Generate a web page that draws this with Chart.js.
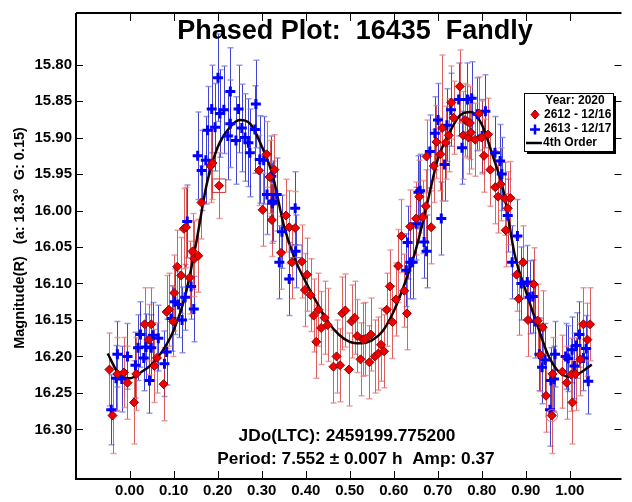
<!DOCTYPE html>
<html>
<head>
<meta charset="utf-8">
<script src="https://cdn.jsdelivr.net/npm/chart.js@4.4.1/dist/chart.umd.min.js"></script>
<style>
  html, body { margin: 0; padding: 0; background: #fff; }
  #wrap { width: 632px; height: 502px; }
</style>
</head>
<body>
<div id="wrap"><canvas id="chart" width="632" height="502"></canvas></div>
<script>
// Session 2612 - 12/16 (red diamonds): phase, magnitude, error
const redX = [-0.046, -0.039, -0.028, -0.013, -0.005, 0.010, 0.015, 0.034, 0.043, 0.049, 0.056, 0.062, 0.077, 0.084, 0.089, 0.099, 0.101, 0.108, 0.117, 0.123, 0.128, 0.136, 0.143, 0.147, 0.156, 0.163, 0.184, 0.188, 0.203,
  0.294, 0.302, 0.311, 0.318, 0.323, 0.329, 0.344, 0.355, 0.3625, 0.3685, 0.376, 0.391, 0.398, 0.403, 0.411, 0.418, 0.424, 0.429, 0.435, 0.443, 0.450, 0.463, 0.470, 0.478, 0.483, 0.490, 0.498,
  0.504, 0.511, 0.517, 0.5245, 0.530, 0.535, 0.5446, 0.548, 0.557, 0.565, 0.571, 0.578, 0.584, 0.591, 0.597, 0.605, 0.610, 0.6175, 0.624, 0.630, 0.6375, 0.651, 0.658, 0.666, 0.673, 0.6745, 0.685,
  0.691, 0.697, 0.706, 0.710, 0.718, 0.725, 0.731, 0.736, 0.750, 0.758, 0.762, 0.7675, 0.770, 0.773, 0.775, 0.785, 0.794, 0.7995, 0.805, 0.814, 0.8195, 0.8305, 0.837, 0.843, 0.853, 0.8545, 0.859, 0.865,
  0.879, 0.884, 0.894, 0.905, 0.918, 0.927, 0.933, 0.9385, 0.946, 0.959, 0.961, 0.983, 0.993, 1.003, 1.006, 1.013, 1.024, 1.031, 1.040, 1.046];
const redY = [16.218, 16.281, 16.224, 16.222, 16.236, 16.263, 16.224, 16.156, 16.177, 16.156, 16.213, 16.202, 16.238, 16.139, 16.136, 16.152, 16.113, 16.077, 16.089, 16.025, 16.023, 16.092, 16.056, 16.066, 16.062, 15.989, 15.939, 15.935, 15.966,
  15.945, 15.999, 15.923, 15.954, 16.013, 15.944, 16.058, 16.007, 16.023, 16.071, 16.024, 16.070, 16.109, 16.088, 16.116, 16.144, 16.180, 16.136, 16.161, 16.147, 16.157, 16.214, 16.200, 16.212, 16.141, 16.137, 16.218,
  16.152, 16.147, 16.172, 16.204, 16.177, 16.176, 16.208, 16.170, 16.200, 16.196, 16.184, 16.193, 16.136, 16.104, 16.153, 16.122, 16.076, 16.035, 16.110, 16.141, 16.022, 16.011, 15.981, 16.009, 15.994, 15.926, 16.023,
  15.939, 15.906, 15.923, 15.887, 15.907, 15.897, 15.852, 15.873, 15.830, 15.897, 15.876, 15.878, 15.900, 15.880, 15.893, 15.903, 15.867, 15.900, 15.925, 15.896, 15.944, 15.968, 15.981, 15.964, 15.984, 16.027, 15.997, 15.983,
  16.088, 16.121, 16.071, 16.150, 16.101, 16.151, 16.198, 16.160, 16.254, 16.281, 16.224, 16.221, 16.236, 16.225, 16.263, 16.224, 16.204, 16.156, 16.177, 16.156];
const redErr = [0.050, 0.052, 0.050, 0.048, 0.050, 0.057, 0.050, 0.050, 0.048, 0.050, 0.050, 0.048, 0.050, 0.050, 0.050, 0.048, 0.052, 0.050, 0.052, 0.055, 0.055, 0.050, 0.052, 0.052, 0.050, 0.050, 0.050, 0.050, 0.045,
  0.048, 0.050, 0.045, 0.050, 0.050, 0.048, 0.050, 0.050, 0.050, 0.050, 0.050, 0.050, 0.050, 0.050, 0.050, 0.050, 0.050, 0.050, 0.050, 0.050, 0.050, 0.050, 0.050, 0.050, 0.050, 0.050, 0.050,
  0.050, 0.050, 0.050, 0.050, 0.050, 0.050, 0.050, 0.050, 0.050, 0.050, 0.050, 0.050, 0.050, 0.050, 0.050, 0.050, 0.050, 0.050, 0.050, 0.050, 0.050, 0.050, 0.050, 0.050, 0.050, 0.050, 0.050,
  0.050, 0.050, 0.050, 0.100, 0.050, 0.050, 0.050, 0.050, 0.050, 0.060, 0.050, 0.050, 0.050, 0.050, 0.050, 0.050, 0.050, 0.050, 0.050, 0.050, 0.050, 0.050, 0.050, 0.050, 0.050, 0.050, 0.050, 0.050,
  0.050, 0.050, 0.050, 0.050, 0.050, 0.050, 0.050, 0.050, 0.050, 0.052, 0.050, 0.050, 0.050, 0.050, 0.057, 0.050, 0.050, 0.050, 0.050, 0.050];

// Session 2613 - 12/17 (blue crosses)
const blueX = [-0.042, -0.031, -0.028, -0.018, -0.005, 0.013, 0.019, 0.0245, 0.032, 0.037, 0.045, 0.049, 0.0526, 0.065, 0.079, 0.084, 0.095, 0.1025, 0.111, 0.119, 0.126, 0.1307, 0.1395, 0.1456,
  0.1545, 0.1634, 0.173, 0.177, 0.1864, 0.194, 0.2006, 0.205, 0.214, 0.223, 0.2287, 0.2287, 0.2414, 0.2474, 0.2548, 0.262, 0.2697, 0.273, 0.2845, 0.2867, 0.2956, 0.3045, 0.312, 0.3217, 0.324, 0.3255,
  0.334, 0.340, 0.346, 0.3625, 0.376, 0.377,
  0.6286, 0.6315, 0.6375, 0.643, 0.651, 0.656, 0.660, 0.669, 0.6745, 0.682, 0.6935, 0.7006, 0.708, 0.7155, 0.7207, 0.730, 0.7475, 0.755, 0.7675, 0.777, 0.790, 0.801, 0.8083, 0.830, 0.8417, 0.8455,
  0.859, 0.869, 0.881, 0.890, 0.9035, 0.9086, 0.916, 0.921, 0.931, 0.937, 0.944, 0.955, 0.957, 0.964, 0.9665, 0.9905, 0.9965, 1.005, 1.0105, 1.0153, 1.022, 1.031, 1.037, 1.042];
const blueY = [16.273, 16.230, 16.197, 16.231, 16.200, 16.212, 16.188, 16.170, 16.202, 16.187, 16.233, 16.188, 16.171, 16.175, 16.210, 16.194, 16.148, 16.125, 16.129, 16.150, 16.119, 16.015, 16.104, 16.135,
  15.925, 15.945, 15.931, 15.890, 15.861, 15.886, 15.818, 15.867, 15.862, 15.898, 15.837, 15.881, 15.904, 15.861, 15.887, 15.900, 15.907, 15.921, 15.889, 15.854, 15.930, 15.931, 15.978, 15.953, 15.990, 15.987,
  15.978, 16.071, 16.029, 16.094, 15.997, 16.056,
  16.082, 16.044, 16.071, 16.071, 16.018, 15.975, 15.973, 16.043, 16.056, 15.919, 15.894, 15.876, 16.011, 15.937, 15.883, 15.862, 15.848, 15.914, 15.848, 15.846, 15.868, 15.898, 15.864, 15.921, 15.932, 15.950,
  16.007, 16.071, 16.035, 16.100, 16.098, 16.119, 16.118, 16.152, 16.197, 16.215, 16.205, 16.273, 16.233, 16.231, 16.197, 16.200, 16.203, 16.191, 16.213, 16.185, 16.170, 16.202, 16.189, 16.234];
const blueErr = [0.048, 0.045, 0.045, 0.045, 0.045, 0.045, 0.045, 0.045, 0.045, 0.045, 0.045, 0.045, 0.045, 0.045, 0.045, 0.045, 0.045, 0.045, 0.045, 0.045, 0.045, 0.050, 0.045, 0.045,
  0.060, 0.055, 0.060, 0.060, 0.060, 0.060, 0.060, 0.060, 0.060, 0.060, 0.060, 0.060, 0.060, 0.060, 0.060, 0.060, 0.060, 0.060, 0.060, 0.060, 0.060, 0.060, 0.055, 0.055, 0.055, 0.055,
  0.050, 0.050, 0.050, 0.050, 0.050, 0.050,
  0.050, 0.050, 0.050, 0.050, 0.050, 0.050, 0.050, 0.050, 0.050, 0.050, 0.050, 0.050, 0.050, 0.050, 0.050, 0.050, 0.050, 0.050, 0.050, 0.050, 0.050, 0.050, 0.050, 0.050, 0.050, 0.050,
  0.050, 0.050, 0.050, 0.050, 0.050, 0.050, 0.050, 0.050, 0.050, 0.050, 0.050, 0.050, 0.045, 0.045, 0.045, 0.045, 0.045, 0.045, 0.045, 0.045, 0.045, 0.045, 0.045, 0.045];

// 4th order fit
const fitX = [-0.05, -0.025, 0, 0.025, 0.05, 0.075, 0.1, 0.125, 0.15, 0.175, 0.2, 0.225, 0.25, 0.275, 0.3, 0.325, 0.35, 0.375, 0.4, 0.425, 0.45, 0.475, 0.5, 0.525,
  0.55, 0.575, 0.6, 0.625, 0.65, 0.675, 0.7, 0.725, 0.75, 0.775, 0.8, 0.825, 0.85, 0.875, 0.9, 0.925, 0.95, 0.975, 1.0, 1.025, 1.05];
const fitY = [16.196, 16.224, 16.230, 16.222, 16.211, 16.192, 16.164, 16.120, 16.048, 15.964, 15.913, 15.888, 15.876, 15.882, 15.912, 15.952, 16.020, 16.066, 16.098, 16.126, 16.152, 16.170, 16.180, 16.182,
  16.178, 16.165, 16.138, 16.100, 16.054, 15.993, 15.930, 15.895, 15.870, 15.865, 15.882, 15.925, 15.975, 16.061, 16.110, 16.155, 16.197, 16.221, 16.228, 16.222, 16.211];

// marked points
const boxX = [0.203], boxY = [15.966];
const ringX = [0.959], ringY = [16.281];
const blueBoxX = [0.377], blueBoxY = [16.056];

const xTicks = [0, 0.1, 0.2, 0.3, 0.4, 0.5, 0.6, 0.7, 0.8, 0.9, 1.0];
const yTicks = [15.80, 15.85, 15.90, 15.95, 16.00, 16.05, 16.10, 16.15, 16.20, 16.25, 16.30];

const FONT = '"Liberation Sans", Arial, sans-serif';
const pts = (xs, ys) => xs.map((v, i) => ({ x: v, y: ys[i] }));

function drawBars(ctx, x, y, xs, ys, es, lineCol, capCol) {
  for (let i = 0; i < xs.length; i++) {
    const px = Math.round(x.getPixelForValue(xs[i])) + 0.5;
    const top = y.getPixelForValue(ys[i] - es[i]);
    const bot = y.getPixelForValue(ys[i] + es[i]);
    ctx.strokeStyle = lineCol;
    ctx.lineWidth = 1;
    ctx.beginPath();
    ctx.moveTo(px, top);
    ctx.lineTo(px, bot);
    ctx.stroke();
    ctx.strokeStyle = capCol;
    ctx.lineWidth = 1.5;
    ctx.beginPath();
    ctx.moveTo(px - 3, top); ctx.lineTo(px + 3, top);
    ctx.moveTo(px - 3, bot); ctx.lineTo(px + 3, bot);
    ctx.stroke();
  }
}

const errorBars = {
  id: 'errorBars',
  beforeDatasetsDraw(chart) {
    const { ctx, scales: { x, y } } = chart;
    ctx.save();
    drawBars(ctx, x, y, blueX, blueY, blueErr, 'rgba(20,20,200,0.8)', 'rgba(120,120,225,0.75)');
    drawBars(ctx, x, y, redX, redY, redErr, 'rgba(210,40,40,0.75)', 'rgba(230,130,130,0.75)');
    ctx.restore();
  }
};

const frame = {
  id: 'frame',
  afterDraw(chart) {
    const { ctx, chartArea: a, scales: { x, y } } = chart;
    ctx.save();
    // axes frame
    ctx.strokeStyle = '#000';
    ctx.lineWidth = 2;
    ctx.beginPath();
    ctx.moveTo(a.left, a.top); ctx.lineTo(a.right, a.top);
    ctx.moveTo(a.left, a.top); ctx.lineTo(a.left, a.bottom);
    ctx.lineTo(a.right, a.bottom);
    ctx.stroke();
    // inward ticks
    ctx.lineWidth = 1;
    ctx.beginPath();
    x.ticks.forEach(t => {
      const px = Math.round(x.getPixelForValue(t.value)) + 0.5;
      ctx.moveTo(px, a.bottom); ctx.lineTo(px, a.bottom - 8);
      ctx.moveTo(px, a.top); ctx.lineTo(px, a.top + 8);
    });
    y.ticks.forEach(t => {
      const py = Math.round(y.getPixelForValue(t.value)) + 0.5;
      ctx.moveTo(a.left, py); ctx.lineTo(a.left + 7, py);
      ctx.moveTo(a.right, py); ctx.lineTo(a.right - 7, py);
    });
    ctx.stroke();

    // y axis title
    ctx.fillStyle = '#000';
    ctx.textAlign = 'center';
    ctx.textBaseline = 'middle';
    ctx.save();
    ctx.translate(20, 238);
    ctx.rotate(-Math.PI / 2);
    ctx.font = 'bold 14.5px ' + FONT;
    ctx.fillText('Magnitude(R)   (a: 18.3\u00b0  G: 0.15)', 0, 0);
    ctx.restore();

    // title and notes
    ctx.font = 'bold 27px ' + FONT;
    ctx.fillText('Phased Plot:  16435  Fandly', 355, 32);
    ctx.font = 'bold 17.3px ' + FONT;
    ctx.fillText('JDo(LTC): 2459199.775200', 347, 436);
    ctx.fillText('Period: 7.552 \u00b1 0.007 h  Amp: 0.37', 356, 459);

    // legend box with shadow
    const lx = 524, ly = 93, lw = 89, lh = 58;
    ctx.fillStyle = '#000';
    ctx.fillRect(lx + 3, ly + 3, lw, lh);
    ctx.fillStyle = '#fff';
    ctx.fillRect(lx, ly, lw, lh);
    ctx.strokeStyle = '#000';
    ctx.lineWidth = 1;
    ctx.strokeRect(lx + 0.5, ly + 0.5, lw, lh);
    ctx.fillStyle = '#000';
    ctx.font = 'bold 12px ' + FONT;
    ctx.textAlign = 'center';
    ctx.fillText('Year: 2020', 575, 101);
    ctx.textAlign = 'left';
    ctx.fillText('2612 - 12/16', 544, 115);
    ctx.fillText('2613 - 12/17', 544, 129);
    ctx.fillText('4th Order', 543, 143);
    // legend symbols
    ctx.fillStyle = '#f00000';
    ctx.strokeStyle = '#8b0000';
    ctx.beginPath();
    ctx.moveTo(535, 110); ctx.lineTo(539, 114.5); ctx.lineTo(535, 119); ctx.lineTo(531, 114.5);
    ctx.closePath();
    ctx.fill(); ctx.stroke();
    ctx.strokeStyle = '#0000ff';
    ctx.lineWidth = 2.5;
    ctx.beginPath();
    ctx.moveTo(530, 129.5); ctx.lineTo(540, 129.5);
    ctx.moveTo(535, 124.5); ctx.lineTo(535, 134.5);
    ctx.stroke();
    ctx.strokeStyle = '#000';
    ctx.lineWidth = 2.5;
    ctx.beginPath();
    ctx.moveTo(526, 143); ctx.lineTo(542, 143);
    ctx.stroke();
    ctx.restore();
  }
};

new Chart(document.getElementById('chart'), {
  type: 'scatter',
  data: {
    datasets: [
      {
        label: '2612 - 12/16',
        data: pts(redX, redY),
        pointStyle: 'rectRot',
        pointRadius: 4.5,
        backgroundColor: '#f00000',
        borderColor: '#8b0000',
        borderWidth: 1,
        order: 1
      },
      {
        label: '2613 - 12/17',
        data: pts(blueX, blueY),
        pointStyle: 'cross',
        pointRadius: 5,
        borderColor: '#0000ff',
        borderWidth: 3,
        order: 2
      },
      {
        label: '4th Order',
        type: 'line',
        data: pts(fitX, fitY),
        borderColor: '#140000',
        borderWidth: 2.5,
        pointRadius: 0,
        cubicInterpolationMode: 'monotone',
        fill: false,
        order: 3
      },
      {
        label: 'mark',
        data: pts(boxX, boxY),
        pointStyle: 'rect',
        pointRadius: 9.5,
        backgroundColor: 'rgba(0,0,0,0)',
        borderColor: '#d03030',
        borderWidth: 1,
        order: 0
      },
      {
        label: 'ring',
        data: pts(ringX, ringY),
        pointStyle: 'circle',
        pointRadius: 6,
        backgroundColor: 'rgba(0,0,0,0)',
        borderColor: '#e07070',
        borderWidth: 1,
        order: 0
      },
      {
        label: 'bluebox',
        data: pts(blueBoxX, blueBoxY),
        pointStyle: 'rect',
        pointRadius: 9,
        backgroundColor: 'rgba(0,0,0,0)',
        borderColor: '#6060d0',
        borderWidth: 1,
        order: 0
      }
    ]
  },
  options: {
    responsive: false,
    animation: false,
    layout: { padding: { top: 9, right: 0, left: 0, bottom: 0 } },
    plugins: { legend: { display: false }, tooltip: { enabled: false } },
    scales: {
      x: {
        type: 'linear',
        min: -0.122,
        max: 1.1175,
        grid: { display: false, drawTicks: false },
        border: { display: false },
        afterBuildTicks: s => { s.ticks = xTicks.map(v => ({ value: v })); },
        afterFit: s => { s.height = 23; },
        ticks: {
          color: '#000',
          padding: 3,
          maxRotation: 0,
          font: { family: FONT, size: 15, weight: 'bold' },
          callback: v => v.toFixed(2)
        }
      },
      y: {
        type: 'linear',
        reverse: true,
        min: 15.7293,
        max: 16.368,
        grid: { display: false, drawTicks: false },
        border: { display: false },
        afterBuildTicks: s => { s.ticks = yTicks.map(v => ({ value: v })); },
        afterFit: s => { s.width = 76; },
        ticks: {
          color: '#000',
          padding: 4,
          font: { family: FONT, size: 15, weight: 'bold' },
          callback: v => v.toFixed(2)
        }
      }
    }
  },
  plugins: [errorBars, frame]
});
</script>
</body>
</html>
